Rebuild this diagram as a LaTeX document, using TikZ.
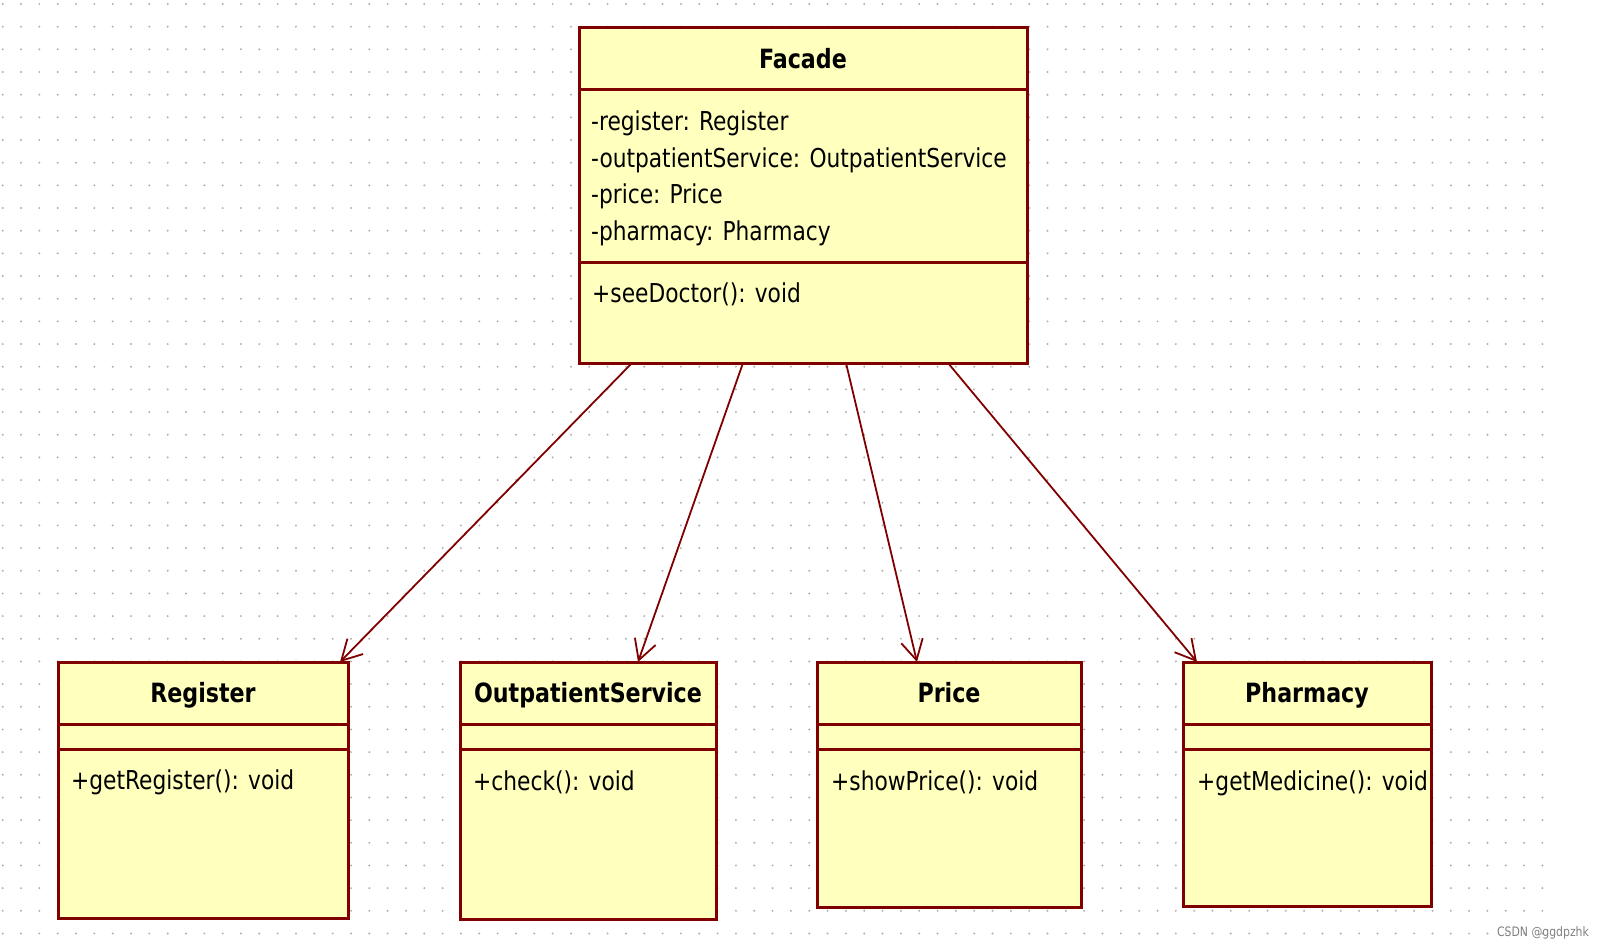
\documentclass[tikz,border=0pt]{standalone}
\usepackage{fontspec}
\setmainfont{DejaVu Sans Condensed}[FakeStretch=0.93]
\usetikzlibrary{arrows.meta}
\definecolor{umlborder}{RGB}{128,0,0}
\definecolor{umlfill}{RGB}{255,255,190}
\definecolor{griddot}{RGB}{175,175,175}
\tikzset{
  classbox/.style={draw=umlborder, fill=umlfill, line width=3pt, anchor=north west, inner sep=0pt, outer sep=0pt},
  sepline/.style={umlborder, line width=3pt},
  title/.style={anchor=base, inner sep=0pt, font=\fontsize{26.5}{30}\selectfont\bfseries},
  member/.style={anchor=base west, inner sep=0pt, font=\fontsize{26}{30}\selectfont},
  assoc/.style={umlborder, line width=1.8pt, -{Straight Barb[length=20pt,width=22pt]}},
  watermark/.style={inner sep=0pt, text=gray, font=\fontsize{13}{15}\selectfont}
}
\begin{document}
\begin{tikzpicture}[x=1pt,y=-1pt]
\useasboundingbox (0,0) rectangle (1605,949);
\foreach \i in {0,...,84}
  \foreach \j in {0,...,41}
    \fill[griddot] (2.7+18.33*\i, 4+22.67*\j) circle (1.1pt);

\node (facade) [classbox, minimum width=448, minimum height=335] at (579,28) {};
\draw[sepline] ([yshift=-62pt]facade.north west) -- ([yshift=-62pt]facade.north east);
\draw[sepline] ([yshift=-235pt]facade.north west) -- ([yshift=-235pt]facade.north east);
\node[title] (facadeT) at (803,69) {Facade};
\node[member] (facadeA1) at (591,131) {-register: Register};
\node[member] (facadeA2) at (591,167.5) {-outpatientService: OutpatientService};
\node[member] (facadeA3) at (591,204) {-price: Price};
\node[member] (facadeA4) at (591,241) {-pharmacy: Pharmacy};
\node[member] (facadeM1) at (592,303) {+seeDoctor(): void};

\node (register) [classbox, minimum width=290, minimum height=256] at (58,662) {};
\draw[sepline] ([yshift=-62pt]register.north west) -- ([yshift=-62pt]register.north east);
\draw[sepline] ([yshift=-87pt]register.north west) -- ([yshift=-87pt]register.north east);
\node[title] (registerT) at (203,702) {Register};
\node[member] (registerM1) at (71,789) {+getRegister(): void};

\node (outpatient) [classbox, minimum width=256, minimum height=257] at (460,662) {};
\draw[sepline] ([yshift=-62pt]outpatient.north west) -- ([yshift=-62pt]outpatient.north east);
\draw[sepline] ([yshift=-87pt]outpatient.north west) -- ([yshift=-87pt]outpatient.north east);
\node[title] (outpatientT) at (588,702) {OutpatientService};
\node[member] (outpatientM1) at (473,790) {+check(): void};

\node (price) [classbox, minimum width=264, minimum height=245] at (817,662) {};
\draw[sepline] ([yshift=-62pt]price.north west) -- ([yshift=-62pt]price.north east);
\draw[sepline] ([yshift=-87pt]price.north west) -- ([yshift=-87pt]price.north east);
\node[title] (priceT) at (949,702) {Price};
\node[member] (priceM1) at (831,790) {+showPrice(): void};

\node (pharmacy) [classbox, minimum width=248, minimum height=244] at (1183,662) {};
\draw[sepline] ([yshift=-62pt]pharmacy.north west) -- ([yshift=-62pt]pharmacy.north east);
\draw[sepline] ([yshift=-87pt]pharmacy.north west) -- ([yshift=-87pt]pharmacy.north east);
\node[title] (pharmacyT) at (1307,702) {Pharmacy};
\node[member] (pharmacyM1) at (1197,790) {+getMedicine(): void};

\draw[assoc] ([xshift=53pt]facade.south west) -- ([xshift=-8pt]register.north east);
\draw[assoc] ([xshift=164pt]facade.south west) -- ([xshift=178pt]outpatient.north west);
\draw[assoc] ([xshift=267pt]facade.south west) -- ([xshift=100pt]price.north west);
\draw[assoc] ([xshift=369pt]facade.south west) -- ([xshift=14pt]pharmacy.north west);

\node[watermark] (csdn) at (1543,933) {CSDN @ggdpzhk};
\end{tikzpicture}
\end{document}
